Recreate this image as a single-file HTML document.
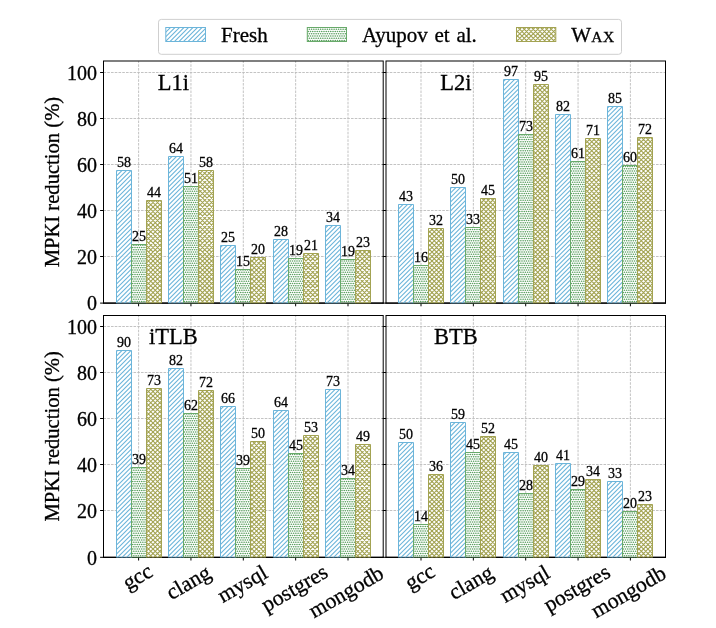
<!DOCTYPE html>
<html><head><meta charset="utf-8"><title>MPKI reduction</title>
<style>
html,body{margin:0;padding:0;background:#fff;}
body{width:716px;height:628px;overflow:hidden;font-family:"Liberation Serif", serif;}
svg{display:block;will-change:transform;}
text{font-family:"Liberation Serif", serif;fill:#000;stroke:#000;stroke-width:0.3px;}
.hb{stroke:#6cb5da;stroke-width:1.1;fill:none;}
.ho{stroke:#a3a352;stroke-width:1.14;fill:none;}
.hg{stroke:#5da162;stroke-width:1.65;fill:none;stroke-linecap:round;stroke-dasharray:0 2.25;}
.eb{fill:none;stroke:#6cb5da;stroke-width:1;}
.eg{fill:none;stroke:#68aa6a;stroke-width:1;}
.eo{fill:none;stroke:#a3a352;stroke-width:1;}
.bg{fill:#fff;fill-opacity:0.85;}
.v{font-size:14px;text-anchor:middle;stroke-width:0.28px;}
.gr{stroke:#bcbcbc;stroke-width:0.9;stroke-dasharray:2.6 1.15;fill:none;}
.sp{fill:none;stroke:#000;stroke-width:1;}
.tk{fill:none;stroke:#000;stroke-width:1;}
.yt{font-size:20px;text-anchor:end;}
.yl{font-size:20.6px;text-anchor:middle;}
.xt{font-size:21.8px;text-anchor:middle;}
.pl{font-size:22.5px;text-anchor:middle;}
.lg{font-size:21px;}
</style></head><body>
<svg width="716" height="628" viewBox="0 0 716 628">
<rect width="716" height="628" fill="#fff"/>

<defs>
<clipPath id="cL1i0">
<rect x="116.5" y="170.5" width="15" height="132.6"/>
<rect x="168.5" y="156.5" width="15" height="146.6"/>
<rect x="220.5" y="245.5" width="15" height="57.6"/>
<rect x="273.5" y="239.5" width="15" height="63.6"/>
<rect x="325.5" y="225.5" width="15" height="77.6"/>
</clipPath>
<clipPath id="cL1i1">
<rect x="131.5" y="244.5" width="15" height="58.6"/>
<rect x="183.5" y="186.5" width="15" height="116.6"/>
<rect x="235.5" y="269.5" width="15" height="33.6"/>
<rect x="288.5" y="258.5" width="15" height="44.6"/>
<rect x="340.5" y="259.5" width="15" height="43.6"/>
</clipPath>
<clipPath id="cL1i2">
<rect x="146.5" y="200.5" width="15" height="102.6"/>
<rect x="198.5" y="170.5" width="15" height="132.6"/>
<rect x="250.5" y="257.5" width="15" height="45.6"/>
<rect x="303.5" y="253.5" width="15" height="49.6"/>
<rect x="355.5" y="250.5" width="15" height="52.6"/>
</clipPath>
<clipPath id="cL2i0">
<rect x="398.5" y="204.5" width="15" height="98.6"/>
<rect x="450.5" y="187.5" width="15" height="115.6"/>
<rect x="503.5" y="79.5" width="15" height="223.6"/>
<rect x="555.5" y="114.5" width="15" height="188.6"/>
<rect x="607.5" y="106.5" width="15" height="196.6"/>
</clipPath>
<clipPath id="cL2i1">
<rect x="413.5" y="265.5" width="15" height="37.6"/>
<rect x="465.5" y="227.5" width="15" height="75.6"/>
<rect x="518.5" y="134.5" width="15" height="168.6"/>
<rect x="570.5" y="161.5" width="15" height="141.6"/>
<rect x="622.5" y="165.5" width="15" height="137.6"/>
</clipPath>
<clipPath id="cL2i2">
<rect x="428.5" y="228.5" width="15" height="74.6"/>
<rect x="480.5" y="198.5" width="15" height="104.6"/>
<rect x="533.5" y="84.5" width="15" height="218.6"/>
<rect x="585.5" y="138.5" width="15" height="164.6"/>
<rect x="637.5" y="137.5" width="15" height="165.6"/>
</clipPath>
<clipPath id="ciTLB0">
<rect x="116.5" y="350.5" width="15" height="206.8"/>
<rect x="168.5" y="368.5" width="15" height="188.8"/>
<rect x="220.5" y="406.5" width="15" height="150.8"/>
<rect x="273.5" y="410.5" width="15" height="146.8"/>
<rect x="325.5" y="389.5" width="15" height="167.8"/>
</clipPath>
<clipPath id="ciTLB1">
<rect x="131.5" y="467.5" width="15" height="89.8"/>
<rect x="183.5" y="413.5" width="15" height="143.8"/>
<rect x="235.5" y="468.5" width="15" height="88.8"/>
<rect x="288.5" y="453.5" width="15" height="103.8"/>
<rect x="340.5" y="478.5" width="15" height="78.8"/>
</clipPath>
<clipPath id="ciTLB2">
<rect x="146.5" y="388.5" width="15" height="168.8"/>
<rect x="198.5" y="390.5" width="15" height="166.8"/>
<rect x="250.5" y="441.5" width="15" height="115.8"/>
<rect x="303.5" y="435.5" width="15" height="121.8"/>
<rect x="355.5" y="444.5" width="15" height="112.8"/>
</clipPath>
<clipPath id="cBTB0">
<rect x="398.5" y="442.5" width="15" height="114.8"/>
<rect x="450.5" y="422.5" width="15" height="134.8"/>
<rect x="503.5" y="452.5" width="15" height="104.8"/>
<rect x="555.5" y="463.5" width="15" height="93.8"/>
<rect x="607.5" y="481.5" width="15" height="75.8"/>
</clipPath>
<clipPath id="cBTB1">
<rect x="413.5" y="524.5" width="15" height="32.8"/>
<rect x="465.5" y="452.5" width="15" height="104.8"/>
<rect x="518.5" y="493.5" width="15" height="63.8"/>
<rect x="570.5" y="489.5" width="15" height="67.8"/>
<rect x="622.5" y="511.5" width="15" height="45.8"/>
</clipPath>
<clipPath id="cBTB2">
<rect x="428.5" y="474.5" width="15" height="82.8"/>
<rect x="480.5" y="436.5" width="15" height="120.8"/>
<rect x="533.5" y="465.5" width="15" height="91.8"/>
<rect x="585.5" y="479.5" width="15" height="77.8"/>
<rect x="637.5" y="504.5" width="15" height="52.8"/>
</clipPath>
<clipPath id="clb"><rect x="165.8" y="27.5" width="39.7" height="14.0"/></clipPath>
<clipPath id="clg"><rect x="307.3" y="27.5" width="39.2" height="14.0"/></clipPath>
<clipPath id="clo"><rect x="516.5" y="27.5" width="39.3" height="14.0"/></clipPath>
</defs>
<g id="L1i">
<path class="gr" d="M138.6,303.1V61M190.95,303.1V61M243.3,303.1V61M295.65,303.1V61M348,303.1V61M103.5,256.5H383.2M103.5,210.5H383.2M103.5,164.5H383.2M103.5,118.5H383.2M103.5,72.5H383.2"/>
<rect class="sp" x="103.5" y="61" width="279.7" height="242.1"/>
<path class="sp" stroke-width="1.3" d="M103,303.1H383.7" style="stroke-width:1.15px"/>
<path class="tk" d="M138.6,303.1v3.2M190.95,303.1v3.2M243.3,303.1v3.2M295.65,303.1v3.2M348,303.1v3.2M103.5,303.1h-3.4M103.5,256.5h-3.4M103.5,210.5h-3.4M103.5,164.5h-3.4M103.5,118.5h-3.4M103.5,72.5h-3.4"/>
<path class="bg" d="M116.5,170.5h15v132h-15zM168.5,156.5h15v146h-15zM220.5,245.5h15v57h-15zM273.5,239.5h15v63h-15zM325.5,225.5h15v77h-15z"/>
<path class="hb" clip-path="url(#cL1i0)" d="M115.5,154.5L341.46,-71.46M115.5,159L341.46,-66.96M115.5,163.5L341.46,-62.46M115.5,168L341.46,-57.96M115.5,172.5L341.46,-53.46M115.5,177L341.46,-48.96M115.5,181.5L341.46,-44.46M115.5,186L341.46,-39.96M115.5,190.5L341.46,-35.46M115.5,195L341.46,-30.96M115.5,199.5L341.46,-26.46M115.5,204L341.46,-21.96M115.5,208.5L341.46,-17.46M115.5,213L341.46,-12.96M115.5,217.5L341.46,-8.46M115.5,222L341.46,-3.96M115.5,226.5L341.46,0.54M115.5,231L341.46,5.04M115.5,235.5L341.46,9.54M115.5,240L341.46,14.04M115.5,244.5L341.46,18.54M115.5,249L341.46,23.04M115.5,253.5L341.46,27.54M115.5,258L341.46,32.04M115.5,262.5L341.46,36.54M115.5,267L341.46,41.04M115.5,271.5L341.46,45.54M115.5,276L341.46,50.04M115.5,280.5L341.46,54.54M115.5,285L341.46,59.04M115.5,289.5L341.46,63.54M115.5,294L341.46,68.04M115.5,298.5L341.46,72.54M115.5,303L341.46,77.04M115.5,307.5L341.46,81.54M115.5,312L341.46,86.04M115.5,316.5L341.46,90.54M115.5,321L341.46,95.04M115.5,325.5L341.46,99.54M115.5,330L341.46,104.04M115.5,334.5L341.46,108.54M115.5,339L341.46,113.04M115.5,343.5L341.46,117.54M115.5,348L341.46,122.04M115.5,352.5L341.46,126.54M115.5,357L341.46,131.04M115.5,361.5L341.46,135.54M115.5,366L341.46,140.04M115.5,370.5L341.46,144.54M115.5,375L341.46,149.04M115.5,379.5L341.46,153.54M115.5,384L341.46,158.04M115.5,388.5L341.46,162.54M115.5,393L341.46,167.04M115.5,397.5L341.46,171.54M115.5,402L341.46,176.04M115.5,406.5L341.46,180.54M115.5,411L341.46,185.04M115.5,415.5L341.46,189.54M115.5,420L341.46,194.04M115.5,424.5L341.46,198.54M115.5,429L341.46,203.04M115.5,433.5L341.46,207.54M115.5,438L341.46,212.04M115.5,442.5L341.46,216.54M115.5,447L341.46,221.04M115.5,451.5L341.46,225.54M115.5,456L341.46,230.04M115.5,460.5L341.46,234.54M115.5,465L341.46,239.04M115.5,469.5L341.46,243.54M115.5,474L341.46,248.04M115.5,478.5L341.46,252.54M115.5,483L341.46,257.04M115.5,487.5L341.46,261.54M115.5,492L341.46,266.04M115.5,496.5L341.46,270.54M115.5,501L341.46,275.04M115.5,505.5L341.46,279.54M115.5,510L341.46,284.04M115.5,514.5L341.46,288.54M115.5,519L341.46,293.04M115.5,523.5L341.46,297.54M115.5,528L341.46,302.04"/>
<path class="eb" d="M116.5,303.1V170.5h15V303.1M168.5,303.1V156.5h15V303.1M220.5,303.1V245.5h15V303.1M273.5,303.1V239.5h15V303.1M325.5,303.1V225.5h15V303.1"/>
<path class="eb" opacity="0.55" d="M116.5,303.1h15M168.5,303.1h15M220.5,303.1h15M273.5,303.1h15M325.5,303.1h15"/>
<path class="bg" d="M131.5,244.5h15v58h-15zM183.5,186.5h15v116h-15zM235.5,269.5h15v33h-15zM288.5,258.5h15v44h-15zM340.5,259.5h15v43h-15z"/>
<path class="hg" clip-path="url(#cL1i1)" d="M130.5,184.5H356.46M130.5,189H356.46M130.5,193.5H356.46M130.5,198H356.46M130.5,202.5H356.46M130.5,207H356.46M130.5,211.5H356.46M130.5,216H356.46M130.5,220.5H356.46M130.5,225H356.46M130.5,229.5H356.46M130.5,234H356.46M130.5,238.5H356.46M130.5,243H356.46M130.5,247.5H356.46M130.5,252H356.46M130.5,256.5H356.46M130.5,261H356.46M130.5,265.5H356.46M130.5,270H356.46M130.5,274.5H356.46M130.5,279H356.46M130.5,283.5H356.46M130.5,288H356.46M130.5,292.5H356.46M130.5,297H356.46M130.5,301.5H356.46M131.62,186.75H356.46M131.62,191.25H356.46M131.62,195.75H356.46M131.62,200.25H356.46M131.62,204.75H356.46M131.62,209.25H356.46M131.62,213.75H356.46M131.62,218.25H356.46M131.62,222.75H356.46M131.62,227.25H356.46M131.62,231.75H356.46M131.62,236.25H356.46M131.62,240.75H356.46M131.62,245.25H356.46M131.62,249.75H356.46M131.62,254.25H356.46M131.62,258.75H356.46M131.62,263.25H356.46M131.62,267.75H356.46M131.62,272.25H356.46M131.62,276.75H356.46M131.62,281.25H356.46M131.62,285.75H356.46M131.62,290.25H356.46M131.62,294.75H356.46M131.62,299.25H356.46M131.62,303.75H356.46"/>
<path class="eg" d="M131.5,303.1V244.5h15V303.1M183.5,303.1V186.5h15V303.1M235.5,303.1V269.5h15V303.1M288.5,303.1V258.5h15V303.1M340.5,303.1V259.5h15V303.1"/>
<path class="eg" opacity="0.55" d="M131.5,303.1h15M183.5,303.1h15M235.5,303.1h15M288.5,303.1h15M340.5,303.1h15"/>
<path class="bg" d="M146.5,200.5h15v102h-15zM198.5,170.5h15v132h-15zM250.5,257.5h15v45h-15zM303.5,253.5h15v49h-15zM355.5,250.5h15v52h-15z"/>
<path class="ho" clip-path="url(#cL1i2)" d="M145.5,169.5L371.46,-56.46M145.5,174L371.46,-51.96M145.5,178.5L371.46,-47.46M145.5,183L371.46,-42.96M145.5,187.5L371.46,-38.46M145.5,192L371.46,-33.96M145.5,196.5L371.46,-29.46M145.5,201L371.46,-24.96M145.5,205.5L371.46,-20.46M145.5,210L371.46,-15.96M145.5,214.5L371.46,-11.46M145.5,219L371.46,-6.96M145.5,223.5L371.46,-2.46M145.5,228L371.46,2.04M145.5,232.5L371.46,6.54M145.5,237L371.46,11.04M145.5,241.5L371.46,15.54M145.5,246L371.46,20.04M145.5,250.5L371.46,24.54M145.5,255L371.46,29.04M145.5,259.5L371.46,33.54M145.5,264L371.46,38.04M145.5,268.5L371.46,42.54M145.5,273L371.46,47.04M145.5,277.5L371.46,51.54M145.5,282L371.46,56.04M145.5,286.5L371.46,60.54M145.5,291L371.46,65.04M145.5,295.5L371.46,69.54M145.5,300L371.46,74.04M145.5,304.5L371.46,78.54M145.5,309L371.46,83.04M145.5,313.5L371.46,87.54M145.5,318L371.46,92.04M145.5,322.5L371.46,96.54M145.5,327L371.46,101.04M145.5,331.5L371.46,105.54M145.5,336L371.46,110.04M145.5,340.5L371.46,114.54M145.5,345L371.46,119.04M145.5,349.5L371.46,123.54M145.5,354L371.46,128.04M145.5,358.5L371.46,132.54M145.5,363L371.46,137.04M145.5,367.5L371.46,141.54M145.5,372L371.46,146.04M145.5,376.5L371.46,150.54M145.5,381L371.46,155.04M145.5,385.5L371.46,159.54M145.5,390L371.46,164.04M145.5,394.5L371.46,168.54M145.5,399L371.46,173.04M145.5,403.5L371.46,177.54M145.5,408L371.46,182.04M145.5,412.5L371.46,186.54M145.5,417L371.46,191.04M145.5,421.5L371.46,195.54M145.5,426L371.46,200.04M145.5,430.5L371.46,204.54M145.5,435L371.46,209.04M145.5,439.5L371.46,213.54M145.5,444L371.46,218.04M145.5,448.5L371.46,222.54M145.5,453L371.46,227.04M145.5,457.5L371.46,231.54M145.5,462L371.46,236.04M145.5,466.5L371.46,240.54M145.5,471L371.46,245.04M145.5,475.5L371.46,249.54M145.5,480L371.46,254.04M145.5,484.5L371.46,258.54M145.5,489L371.46,263.04M145.5,493.5L371.46,267.54M145.5,498L371.46,272.04M145.5,502.5L371.46,276.54M145.5,507L371.46,281.04M145.5,511.5L371.46,285.54M145.5,516L371.46,290.04M145.5,520.5L371.46,294.54M145.5,525L371.46,299.04M145.5,529.5L371.46,303.54M145.5,307.5L371.46,533.46M145.5,303L371.46,528.96M145.5,298.5L371.46,524.46M145.5,294L371.46,519.96M145.5,289.5L371.46,515.46M145.5,285L371.46,510.96M145.5,280.5L371.46,506.46M145.5,276L371.46,501.96M145.5,271.5L371.46,497.46M145.5,267L371.46,492.96M145.5,262.5L371.46,488.46M145.5,258L371.46,483.96M145.5,253.5L371.46,479.46M145.5,249L371.46,474.96M145.5,244.5L371.46,470.46M145.5,240L371.46,465.96M145.5,235.5L371.46,461.46M145.5,231L371.46,456.96M145.5,226.5L371.46,452.46M145.5,222L371.46,447.96M145.5,217.5L371.46,443.46M145.5,213L371.46,438.96M145.5,208.5L371.46,434.46M145.5,204L371.46,429.96M145.5,199.5L371.46,425.46M145.5,195L371.46,420.96M145.5,190.5L371.46,416.46M145.5,186L371.46,411.96M145.5,181.5L371.46,407.46M145.5,177L371.46,402.96M145.5,172.5L371.46,398.46M145.5,168L371.46,393.96M145.5,163.5L371.46,389.46M145.5,159L371.46,384.96M145.5,154.5L371.46,380.46M145.5,150L371.46,375.96M145.5,145.5L371.46,371.46M145.5,141L371.46,366.96M145.5,136.5L371.46,362.46M145.5,132L371.46,357.96M145.5,127.5L371.46,353.46M145.5,123L371.46,348.96M145.5,118.5L371.46,344.46M145.5,114L371.46,339.96M145.5,109.5L371.46,335.46M145.5,105L371.46,330.96M145.5,100.5L371.46,326.46M145.5,96L371.46,321.96M145.5,91.5L371.46,317.46M145.5,87L371.46,312.96M145.5,82.5L371.46,308.46M145.5,78L371.46,303.96M145.5,73.5L371.46,299.46M145.5,69L371.46,294.96M145.5,64.5L371.46,290.46M145.5,60L371.46,285.96M145.5,55.5L371.46,281.46M145.5,51L371.46,276.96M145.5,46.5L371.46,272.46M145.5,42L371.46,267.96M145.5,37.5L371.46,263.46M145.5,33L371.46,258.96M145.5,28.5L371.46,254.46M145.5,24L371.46,249.96M145.5,19.5L371.46,245.46M145.5,15L371.46,240.96M145.5,10.5L371.46,236.46M145.5,6L371.46,231.96M145.5,1.5L371.46,227.46M145.5,-3L371.46,222.96M145.5,-7.5L371.46,218.46M145.5,-12L371.46,213.96M145.5,-16.5L371.46,209.46M145.5,-21L371.46,204.96M145.5,-25.5L371.46,200.46M145.5,-30L371.46,195.96M145.5,-34.5L371.46,191.46M145.5,-39L371.46,186.96M145.5,-43.5L371.46,182.46M145.5,-48L371.46,177.96M145.5,-52.5L371.46,173.46"/>
<path class="eo" d="M146.5,303.1V200.5h15V303.1M198.5,303.1V170.5h15V303.1M250.5,303.1V257.5h15V303.1M303.5,303.1V253.5h15V303.1M355.5,303.1V250.5h15V303.1"/>
<path class="eo" opacity="0.55" d="M146.5,303.1h15M198.5,303.1h15M250.5,303.1h15M303.5,303.1h15M355.5,303.1h15"/>
<text class="v" x="124" y="166.6">58</text>
<text class="v" x="176" y="152.6">64</text>
<text class="v" x="228" y="241.6">25</text>
<text class="v" x="281" y="235.6">28</text>
<text class="v" x="333" y="221.6">34</text>
<text class="v" x="139" y="240.6">25</text>
<text class="v" x="191" y="182.6">51</text>
<text class="v" x="243" y="265.6">15</text>
<text class="v" x="296" y="254.6">19</text>
<text class="v" x="348" y="255.6">19</text>
<text class="v" x="154" y="196.6">44</text>
<text class="v" x="206" y="166.6">58</text>
<text class="v" x="258" y="253.6">20</text>
<text class="v" x="311" y="249.6">21</text>
<text class="v" x="363" y="246.6">23</text>
<text class="pl" x="173.43" y="89.5">L1i</text>
</g>
<g id="L2i">
<path class="gr" d="M421,303.1V61M473.35,303.1V61M525.7,303.1V61M578.05,303.1V61M630.4,303.1V61M386,256.5H665.5M386,210.5H665.5M386,164.5H665.5M386,118.5H665.5M386,72.5H665.5"/>
<rect class="sp" x="386" y="61" width="279.5" height="242.1"/>
<path class="sp" stroke-width="1.3" d="M385.5,303.1H666" style="stroke-width:1.15px"/>
<path class="tk" d="M421,303.1v3.2M473.35,303.1v3.2M525.7,303.1v3.2M578.05,303.1v3.2M630.4,303.1v3.2M386,303.1h-3.4M386,256.5h-3.4M386,210.5h-3.4M386,164.5h-3.4M386,118.5h-3.4M386,72.5h-3.4"/>
<path class="bg" d="M398.5,204.5h15v98h-15zM450.5,187.5h15v115h-15zM503.5,79.5h15v223h-15zM555.5,114.5h15v188h-15zM607.5,106.5h15v196h-15z"/>
<path class="hb" clip-path="url(#cL2i0)" d="M397.5,75L623.46,-150.96M397.5,79.5L623.46,-146.46M397.5,84L623.46,-141.96M397.5,88.5L623.46,-137.46M397.5,93L623.46,-132.96M397.5,97.5L623.46,-128.46M397.5,102L623.46,-123.96M397.5,106.5L623.46,-119.46M397.5,111L623.46,-114.96M397.5,115.5L623.46,-110.46M397.5,120L623.46,-105.96M397.5,124.5L623.46,-101.46M397.5,129L623.46,-96.96M397.5,133.5L623.46,-92.46M397.5,138L623.46,-87.96M397.5,142.5L623.46,-83.46M397.5,147L623.46,-78.96M397.5,151.5L623.46,-74.46M397.5,156L623.46,-69.96M397.5,160.5L623.46,-65.46M397.5,165L623.46,-60.96M397.5,169.5L623.46,-56.46M397.5,174L623.46,-51.96M397.5,178.5L623.46,-47.46M397.5,183L623.46,-42.96M397.5,187.5L623.46,-38.46M397.5,192L623.46,-33.96M397.5,196.5L623.46,-29.46M397.5,201L623.46,-24.96M397.5,205.5L623.46,-20.46M397.5,210L623.46,-15.96M397.5,214.5L623.46,-11.46M397.5,219L623.46,-6.96M397.5,223.5L623.46,-2.46M397.5,228L623.46,2.04M397.5,232.5L623.46,6.54M397.5,237L623.46,11.04M397.5,241.5L623.46,15.54M397.5,246L623.46,20.04M397.5,250.5L623.46,24.54M397.5,255L623.46,29.04M397.5,259.5L623.46,33.54M397.5,264L623.46,38.04M397.5,268.5L623.46,42.54M397.5,273L623.46,47.04M397.5,277.5L623.46,51.54M397.5,282L623.46,56.04M397.5,286.5L623.46,60.54M397.5,291L623.46,65.04M397.5,295.5L623.46,69.54M397.5,300L623.46,74.04M397.5,304.5L623.46,78.54M397.5,309L623.46,83.04M397.5,313.5L623.46,87.54M397.5,318L623.46,92.04M397.5,322.5L623.46,96.54M397.5,327L623.46,101.04M397.5,331.5L623.46,105.54M397.5,336L623.46,110.04M397.5,340.5L623.46,114.54M397.5,345L623.46,119.04M397.5,349.5L623.46,123.54M397.5,354L623.46,128.04M397.5,358.5L623.46,132.54M397.5,363L623.46,137.04M397.5,367.5L623.46,141.54M397.5,372L623.46,146.04M397.5,376.5L623.46,150.54M397.5,381L623.46,155.04M397.5,385.5L623.46,159.54M397.5,390L623.46,164.04M397.5,394.5L623.46,168.54M397.5,399L623.46,173.04M397.5,403.5L623.46,177.54M397.5,408L623.46,182.04M397.5,412.5L623.46,186.54M397.5,417L623.46,191.04M397.5,421.5L623.46,195.54M397.5,426L623.46,200.04M397.5,430.5L623.46,204.54M397.5,435L623.46,209.04M397.5,439.5L623.46,213.54M397.5,444L623.46,218.04M397.5,448.5L623.46,222.54M397.5,453L623.46,227.04M397.5,457.5L623.46,231.54M397.5,462L623.46,236.04M397.5,466.5L623.46,240.54M397.5,471L623.46,245.04M397.5,475.5L623.46,249.54M397.5,480L623.46,254.04M397.5,484.5L623.46,258.54M397.5,489L623.46,263.04M397.5,493.5L623.46,267.54M397.5,498L623.46,272.04M397.5,502.5L623.46,276.54M397.5,507L623.46,281.04M397.5,511.5L623.46,285.54M397.5,516L623.46,290.04M397.5,520.5L623.46,294.54M397.5,525L623.46,299.04M397.5,529.5L623.46,303.54"/>
<path class="eb" d="M398.5,303.1V204.5h15V303.1M450.5,303.1V187.5h15V303.1M503.5,303.1V79.5h15V303.1M555.5,303.1V114.5h15V303.1M607.5,303.1V106.5h15V303.1"/>
<path class="eb" opacity="0.55" d="M398.5,303.1h15M450.5,303.1h15M503.5,303.1h15M555.5,303.1h15M607.5,303.1h15"/>
<path class="bg" d="M413.5,265.5h15v37h-15zM465.5,227.5h15v75h-15zM518.5,134.5h15v168h-15zM570.5,161.5h15v141h-15zM622.5,165.5h15v137h-15z"/>
<path class="hg" clip-path="url(#cL2i1)" d="M411.75,135H638.46M411.75,139.5H638.46M411.75,144H638.46M411.75,148.5H638.46M411.75,153H638.46M411.75,157.5H638.46M411.75,162H638.46M411.75,166.5H638.46M411.75,171H638.46M411.75,175.5H638.46M411.75,180H638.46M411.75,184.5H638.46M411.75,189H638.46M411.75,193.5H638.46M411.75,198H638.46M411.75,202.5H638.46M411.75,207H638.46M411.75,211.5H638.46M411.75,216H638.46M411.75,220.5H638.46M411.75,225H638.46M411.75,229.5H638.46M411.75,234H638.46M411.75,238.5H638.46M411.75,243H638.46M411.75,247.5H638.46M411.75,252H638.46M411.75,256.5H638.46M411.75,261H638.46M411.75,265.5H638.46M411.75,270H638.46M411.75,274.5H638.46M411.75,279H638.46M411.75,283.5H638.46M411.75,288H638.46M411.75,292.5H638.46M411.75,297H638.46M411.75,301.5H638.46M412.88,132.75H638.46M412.88,137.25H638.46M412.88,141.75H638.46M412.88,146.25H638.46M412.88,150.75H638.46M412.88,155.25H638.46M412.88,159.75H638.46M412.88,164.25H638.46M412.88,168.75H638.46M412.88,173.25H638.46M412.88,177.75H638.46M412.88,182.25H638.46M412.88,186.75H638.46M412.88,191.25H638.46M412.88,195.75H638.46M412.88,200.25H638.46M412.88,204.75H638.46M412.88,209.25H638.46M412.88,213.75H638.46M412.88,218.25H638.46M412.88,222.75H638.46M412.88,227.25H638.46M412.88,231.75H638.46M412.88,236.25H638.46M412.88,240.75H638.46M412.88,245.25H638.46M412.88,249.75H638.46M412.88,254.25H638.46M412.88,258.75H638.46M412.88,263.25H638.46M412.88,267.75H638.46M412.88,272.25H638.46M412.88,276.75H638.46M412.88,281.25H638.46M412.88,285.75H638.46M412.88,290.25H638.46M412.88,294.75H638.46M412.88,299.25H638.46M412.88,303.75H638.46"/>
<path class="eg" d="M413.5,303.1V265.5h15V303.1M465.5,303.1V227.5h15V303.1M518.5,303.1V134.5h15V303.1M570.5,303.1V161.5h15V303.1M622.5,303.1V165.5h15V303.1"/>
<path class="eg" opacity="0.55" d="M413.5,303.1h15M465.5,303.1h15M518.5,303.1h15M570.5,303.1h15M622.5,303.1h15"/>
<path class="bg" d="M428.5,228.5h15v74h-15zM480.5,198.5h15v104h-15zM533.5,84.5h15v218h-15zM585.5,138.5h15v164h-15zM637.5,137.5h15v165h-15z"/>
<path class="ho" clip-path="url(#cL2i2)" d="M427.5,81L653.46,-144.96M427.5,85.5L653.46,-140.46M427.5,90L653.46,-135.96M427.5,94.5L653.46,-131.46M427.5,99L653.46,-126.96M427.5,103.5L653.46,-122.46M427.5,108L653.46,-117.96M427.5,112.5L653.46,-113.46M427.5,117L653.46,-108.96M427.5,121.5L653.46,-104.46M427.5,126L653.46,-99.96M427.5,130.5L653.46,-95.46M427.5,135L653.46,-90.96M427.5,139.5L653.46,-86.46M427.5,144L653.46,-81.96M427.5,148.5L653.46,-77.46M427.5,153L653.46,-72.96M427.5,157.5L653.46,-68.46M427.5,162L653.46,-63.96M427.5,166.5L653.46,-59.46M427.5,171L653.46,-54.96M427.5,175.5L653.46,-50.46M427.5,180L653.46,-45.96M427.5,184.5L653.46,-41.46M427.5,189L653.46,-36.96M427.5,193.5L653.46,-32.46M427.5,198L653.46,-27.96M427.5,202.5L653.46,-23.46M427.5,207L653.46,-18.96M427.5,211.5L653.46,-14.46M427.5,216L653.46,-9.96M427.5,220.5L653.46,-5.46M427.5,225L653.46,-0.96M427.5,229.5L653.46,3.54M427.5,234L653.46,8.04M427.5,238.5L653.46,12.54M427.5,243L653.46,17.04M427.5,247.5L653.46,21.54M427.5,252L653.46,26.04M427.5,256.5L653.46,30.54M427.5,261L653.46,35.04M427.5,265.5L653.46,39.54M427.5,270L653.46,44.04M427.5,274.5L653.46,48.54M427.5,279L653.46,53.04M427.5,283.5L653.46,57.54M427.5,288L653.46,62.04M427.5,292.5L653.46,66.54M427.5,297L653.46,71.04M427.5,301.5L653.46,75.54M427.5,306L653.46,80.04M427.5,310.5L653.46,84.54M427.5,315L653.46,89.04M427.5,319.5L653.46,93.54M427.5,324L653.46,98.04M427.5,328.5L653.46,102.54M427.5,333L653.46,107.04M427.5,337.5L653.46,111.54M427.5,342L653.46,116.04M427.5,346.5L653.46,120.54M427.5,351L653.46,125.04M427.5,355.5L653.46,129.54M427.5,360L653.46,134.04M427.5,364.5L653.46,138.54M427.5,369L653.46,143.04M427.5,373.5L653.46,147.54M427.5,378L653.46,152.04M427.5,382.5L653.46,156.54M427.5,387L653.46,161.04M427.5,391.5L653.46,165.54M427.5,396L653.46,170.04M427.5,400.5L653.46,174.54M427.5,405L653.46,179.04M427.5,409.5L653.46,183.54M427.5,414L653.46,188.04M427.5,418.5L653.46,192.54M427.5,423L653.46,197.04M427.5,427.5L653.46,201.54M427.5,432L653.46,206.04M427.5,436.5L653.46,210.54M427.5,441L653.46,215.04M427.5,445.5L653.46,219.54M427.5,450L653.46,224.04M427.5,454.5L653.46,228.54M427.5,459L653.46,233.04M427.5,463.5L653.46,237.54M427.5,468L653.46,242.04M427.5,472.5L653.46,246.54M427.5,477L653.46,251.04M427.5,481.5L653.46,255.54M427.5,486L653.46,260.04M427.5,490.5L653.46,264.54M427.5,495L653.46,269.04M427.5,499.5L653.46,273.54M427.5,504L653.46,278.04M427.5,508.5L653.46,282.54M427.5,513L653.46,287.04M427.5,517.5L653.46,291.54M427.5,522L653.46,296.04M427.5,526.5L653.46,300.54M427.5,306L653.46,531.96M427.5,301.5L653.46,527.46M427.5,297L653.46,522.96M427.5,292.5L653.46,518.46M427.5,288L653.46,513.96M427.5,283.5L653.46,509.46M427.5,279L653.46,504.96M427.5,274.5L653.46,500.46M427.5,270L653.46,495.96M427.5,265.5L653.46,491.46M427.5,261L653.46,486.96M427.5,256.5L653.46,482.46M427.5,252L653.46,477.96M427.5,247.5L653.46,473.46M427.5,243L653.46,468.96M427.5,238.5L653.46,464.46M427.5,234L653.46,459.96M427.5,229.5L653.46,455.46M427.5,225L653.46,450.96M427.5,220.5L653.46,446.46M427.5,216L653.46,441.96M427.5,211.5L653.46,437.46M427.5,207L653.46,432.96M427.5,202.5L653.46,428.46M427.5,198L653.46,423.96M427.5,193.5L653.46,419.46M427.5,189L653.46,414.96M427.5,184.5L653.46,410.46M427.5,180L653.46,405.96M427.5,175.5L653.46,401.46M427.5,171L653.46,396.96M427.5,166.5L653.46,392.46M427.5,162L653.46,387.96M427.5,157.5L653.46,383.46M427.5,153L653.46,378.96M427.5,148.5L653.46,374.46M427.5,144L653.46,369.96M427.5,139.5L653.46,365.46M427.5,135L653.46,360.96M427.5,130.5L653.46,356.46M427.5,126L653.46,351.96M427.5,121.5L653.46,347.46M427.5,117L653.46,342.96M427.5,112.5L653.46,338.46M427.5,108L653.46,333.96M427.5,103.5L653.46,329.46M427.5,99L653.46,324.96M427.5,94.5L653.46,320.46M427.5,90L653.46,315.96M427.5,85.5L653.46,311.46M427.5,81L653.46,306.96M427.5,76.5L653.46,302.46M427.5,72L653.46,297.96M427.5,67.5L653.46,293.46M427.5,63L653.46,288.96M427.5,58.5L653.46,284.46M427.5,54L653.46,279.96M427.5,49.5L653.46,275.46M427.5,45L653.46,270.96M427.5,40.5L653.46,266.46M427.5,36L653.46,261.96M427.5,31.5L653.46,257.46M427.5,27L653.46,252.96M427.5,22.5L653.46,248.46M427.5,18L653.46,243.96M427.5,13.5L653.46,239.46M427.5,9L653.46,234.96M427.5,4.5L653.46,230.46M427.5,0L653.46,225.96M427.5,-4.5L653.46,221.46M427.5,-9L653.46,216.96M427.5,-13.5L653.46,212.46M427.5,-18L653.46,207.96M427.5,-22.5L653.46,203.46M427.5,-27L653.46,198.96M427.5,-31.5L653.46,194.46M427.5,-36L653.46,189.96M427.5,-40.5L653.46,185.46M427.5,-45L653.46,180.96M427.5,-49.5L653.46,176.46M427.5,-54L653.46,171.96M427.5,-58.5L653.46,167.46M427.5,-63L653.46,162.96M427.5,-67.5L653.46,158.46M427.5,-72L653.46,153.96M427.5,-76.5L653.46,149.46M427.5,-81L653.46,144.96M427.5,-85.5L653.46,140.46M427.5,-90L653.46,135.96M427.5,-94.5L653.46,131.46M427.5,-99L653.46,126.96M427.5,-103.5L653.46,122.46M427.5,-108L653.46,117.96M427.5,-112.5L653.46,113.46M427.5,-117L653.46,108.96M427.5,-121.5L653.46,104.46M427.5,-126L653.46,99.96M427.5,-130.5L653.46,95.46M427.5,-135L653.46,90.96M427.5,-139.5L653.46,86.46"/>
<path class="eo" d="M428.5,303.1V228.5h15V303.1M480.5,303.1V198.5h15V303.1M533.5,303.1V84.5h15V303.1M585.5,303.1V138.5h15V303.1M637.5,303.1V137.5h15V303.1"/>
<path class="eo" opacity="0.55" d="M428.5,303.1h15M480.5,303.1h15M533.5,303.1h15M585.5,303.1h15M637.5,303.1h15"/>
<text class="v" x="406" y="200.6">43</text>
<text class="v" x="458" y="183.6">50</text>
<text class="v" x="511" y="75.6">97</text>
<text class="v" x="563" y="110.6">82</text>
<text class="v" x="615" y="102.6">85</text>
<text class="v" x="421" y="261.6">16</text>
<text class="v" x="473" y="223.6">33</text>
<text class="v" x="526" y="130.6">73</text>
<text class="v" x="578" y="157.6">61</text>
<text class="v" x="630" y="161.6">60</text>
<text class="v" x="436" y="224.6">32</text>
<text class="v" x="488" y="194.6">45</text>
<text class="v" x="541" y="80.6">95</text>
<text class="v" x="593" y="134.6">71</text>
<text class="v" x="645" y="133.6">72</text>
<text class="pl" x="455.88" y="89.5">L2i</text>
</g>
<g id="iTLB">
<path class="gr" d="M138.6,557.3V315.5M190.95,557.3V315.5M243.3,557.3V315.5M295.65,557.3V315.5M348,557.3V315.5M103.5,510.5H383.2M103.5,464.5H383.2M103.5,418.5H383.2M103.5,372.5H383.2M103.5,326.5H383.2"/>
<rect class="sp" x="103.5" y="315.5" width="279.7" height="241.8"/>
<path class="sp" stroke-width="1.3" d="M103,557.3H383.7" style="stroke-width:1.15px"/>
<path class="tk" d="M138.6,557.3v3.2M190.95,557.3v3.2M243.3,557.3v3.2M295.65,557.3v3.2M348,557.3v3.2M103.5,557.3h-3.4M103.5,510.5h-3.4M103.5,464.5h-3.4M103.5,418.5h-3.4M103.5,372.5h-3.4M103.5,326.5h-3.4"/>
<path class="bg" d="M116.5,350.5h15v206.2h-15zM168.5,368.5h15v188.2h-15zM220.5,406.5h15v150.2h-15zM273.5,410.5h15v146.2h-15zM325.5,389.5h15v167.2h-15z"/>
<path class="hb" clip-path="url(#ciTLB0)" d="M115.5,348L341.46,122.04M115.5,352.5L341.46,126.54M115.5,357L341.46,131.04M115.5,361.5L341.46,135.54M115.5,366L341.46,140.04M115.5,370.5L341.46,144.54M115.5,375L341.46,149.04M115.5,379.5L341.46,153.54M115.5,384L341.46,158.04M115.5,388.5L341.46,162.54M115.5,393L341.46,167.04M115.5,397.5L341.46,171.54M115.5,402L341.46,176.04M115.5,406.5L341.46,180.54M115.5,411L341.46,185.04M115.5,415.5L341.46,189.54M115.5,420L341.46,194.04M115.5,424.5L341.46,198.54M115.5,429L341.46,203.04M115.5,433.5L341.46,207.54M115.5,438L341.46,212.04M115.5,442.5L341.46,216.54M115.5,447L341.46,221.04M115.5,451.5L341.46,225.54M115.5,456L341.46,230.04M115.5,460.5L341.46,234.54M115.5,465L341.46,239.04M115.5,469.5L341.46,243.54M115.5,474L341.46,248.04M115.5,478.5L341.46,252.54M115.5,483L341.46,257.04M115.5,487.5L341.46,261.54M115.5,492L341.46,266.04M115.5,496.5L341.46,270.54M115.5,501L341.46,275.04M115.5,505.5L341.46,279.54M115.5,510L341.46,284.04M115.5,514.5L341.46,288.54M115.5,519L341.46,293.04M115.5,523.5L341.46,297.54M115.5,528L341.46,302.04M115.5,532.5L341.46,306.54M115.5,537L341.46,311.04M115.5,541.5L341.46,315.54M115.5,546L341.46,320.04M115.5,550.5L341.46,324.54M115.5,555L341.46,329.04M115.5,559.5L341.46,333.54M115.5,564L341.46,338.04M115.5,568.5L341.46,342.54M115.5,573L341.46,347.04M115.5,577.5L341.46,351.54M115.5,582L341.46,356.04M115.5,586.5L341.46,360.54M115.5,591L341.46,365.04M115.5,595.5L341.46,369.54M115.5,600L341.46,374.04M115.5,604.5L341.46,378.54M115.5,609L341.46,383.04M115.5,613.5L341.46,387.54M115.5,618L341.46,392.04M115.5,622.5L341.46,396.54M115.5,627L341.46,401.04M115.5,631.5L341.46,405.54M115.5,636L341.46,410.04M115.5,640.5L341.46,414.54M115.5,645L341.46,419.04M115.5,649.5L341.46,423.54M115.5,654L341.46,428.04M115.5,658.5L341.46,432.54M115.5,663L341.46,437.04M115.5,667.5L341.46,441.54M115.5,672L341.46,446.04M115.5,676.5L341.46,450.54M115.5,681L341.46,455.04M115.5,685.5L341.46,459.54M115.5,690L341.46,464.04M115.5,694.5L341.46,468.54M115.5,699L341.46,473.04M115.5,703.5L341.46,477.54M115.5,708L341.46,482.04M115.5,712.5L341.46,486.54M115.5,717L341.46,491.04M115.5,721.5L341.46,495.54M115.5,726L341.46,500.04M115.5,730.5L341.46,504.54M115.5,735L341.46,509.04M115.5,739.5L341.46,513.54M115.5,744L341.46,518.04M115.5,748.5L341.46,522.54M115.5,753L341.46,527.04M115.5,757.5L341.46,531.54M115.5,762L341.46,536.04M115.5,766.5L341.46,540.54M115.5,771L341.46,545.04M115.5,775.5L341.46,549.54M115.5,780L341.46,554.04"/>
<path class="eb" d="M116.5,557.3V350.5h15V557.3M168.5,557.3V368.5h15V557.3M220.5,557.3V406.5h15V557.3M273.5,557.3V410.5h15V557.3M325.5,557.3V389.5h15V557.3"/>
<path class="eb" opacity="0.55" d="M116.5,557.3h15M168.5,557.3h15M220.5,557.3h15M273.5,557.3h15M325.5,557.3h15"/>
<path class="bg" d="M131.5,467.5h15v89.2h-15zM183.5,413.5h15v143.2h-15zM235.5,468.5h15v88.2h-15zM288.5,453.5h15v103.2h-15zM340.5,478.5h15v78.2h-15z"/>
<path class="hg" clip-path="url(#ciTLB1)" d="M130.5,414H356.46M130.5,418.5H356.46M130.5,423H356.46M130.5,427.5H356.46M130.5,432H356.46M130.5,436.5H356.46M130.5,441H356.46M130.5,445.5H356.46M130.5,450H356.46M130.5,454.5H356.46M130.5,459H356.46M130.5,463.5H356.46M130.5,468H356.46M130.5,472.5H356.46M130.5,477H356.46M130.5,481.5H356.46M130.5,486H356.46M130.5,490.5H356.46M130.5,495H356.46M130.5,499.5H356.46M130.5,504H356.46M130.5,508.5H356.46M130.5,513H356.46M130.5,517.5H356.46M130.5,522H356.46M130.5,526.5H356.46M130.5,531H356.46M130.5,535.5H356.46M130.5,540H356.46M130.5,544.5H356.46M130.5,549H356.46M130.5,553.5H356.46M130.5,558H356.46M131.62,411.75H356.46M131.62,416.25H356.46M131.62,420.75H356.46M131.62,425.25H356.46M131.62,429.75H356.46M131.62,434.25H356.46M131.62,438.75H356.46M131.62,443.25H356.46M131.62,447.75H356.46M131.62,452.25H356.46M131.62,456.75H356.46M131.62,461.25H356.46M131.62,465.75H356.46M131.62,470.25H356.46M131.62,474.75H356.46M131.62,479.25H356.46M131.62,483.75H356.46M131.62,488.25H356.46M131.62,492.75H356.46M131.62,497.25H356.46M131.62,501.75H356.46M131.62,506.25H356.46M131.62,510.75H356.46M131.62,515.25H356.46M131.62,519.75H356.46M131.62,524.25H356.46M131.62,528.75H356.46M131.62,533.25H356.46M131.62,537.75H356.46M131.62,542.25H356.46M131.62,546.75H356.46M131.62,551.25H356.46M131.62,555.75H356.46"/>
<path class="eg" d="M131.5,557.3V467.5h15V557.3M183.5,557.3V413.5h15V557.3M235.5,557.3V468.5h15V557.3M288.5,557.3V453.5h15V557.3M340.5,557.3V478.5h15V557.3"/>
<path class="eg" opacity="0.55" d="M131.5,557.3h15M183.5,557.3h15M235.5,557.3h15M288.5,557.3h15M340.5,557.3h15"/>
<path class="bg" d="M146.5,388.5h15v168.2h-15zM198.5,390.5h15v166.2h-15zM250.5,441.5h15v115.2h-15zM303.5,435.5h15v121.2h-15zM355.5,444.5h15v112.2h-15z"/>
<path class="ho" clip-path="url(#ciTLB2)" d="M145.5,385.5L371.46,159.54M145.5,390L371.46,164.04M145.5,394.5L371.46,168.54M145.5,399L371.46,173.04M145.5,403.5L371.46,177.54M145.5,408L371.46,182.04M145.5,412.5L371.46,186.54M145.5,417L371.46,191.04M145.5,421.5L371.46,195.54M145.5,426L371.46,200.04M145.5,430.5L371.46,204.54M145.5,435L371.46,209.04M145.5,439.5L371.46,213.54M145.5,444L371.46,218.04M145.5,448.5L371.46,222.54M145.5,453L371.46,227.04M145.5,457.5L371.46,231.54M145.5,462L371.46,236.04M145.5,466.5L371.46,240.54M145.5,471L371.46,245.04M145.5,475.5L371.46,249.54M145.5,480L371.46,254.04M145.5,484.5L371.46,258.54M145.5,489L371.46,263.04M145.5,493.5L371.46,267.54M145.5,498L371.46,272.04M145.5,502.5L371.46,276.54M145.5,507L371.46,281.04M145.5,511.5L371.46,285.54M145.5,516L371.46,290.04M145.5,520.5L371.46,294.54M145.5,525L371.46,299.04M145.5,529.5L371.46,303.54M145.5,534L371.46,308.04M145.5,538.5L371.46,312.54M145.5,543L371.46,317.04M145.5,547.5L371.46,321.54M145.5,552L371.46,326.04M145.5,556.5L371.46,330.54M145.5,561L371.46,335.04M145.5,565.5L371.46,339.54M145.5,570L371.46,344.04M145.5,574.5L371.46,348.54M145.5,579L371.46,353.04M145.5,583.5L371.46,357.54M145.5,588L371.46,362.04M145.5,592.5L371.46,366.54M145.5,597L371.46,371.04M145.5,601.5L371.46,375.54M145.5,606L371.46,380.04M145.5,610.5L371.46,384.54M145.5,615L371.46,389.04M145.5,619.5L371.46,393.54M145.5,624L371.46,398.04M145.5,628.5L371.46,402.54M145.5,633L371.46,407.04M145.5,637.5L371.46,411.54M145.5,642L371.46,416.04M145.5,646.5L371.46,420.54M145.5,651L371.46,425.04M145.5,655.5L371.46,429.54M145.5,660L371.46,434.04M145.5,664.5L371.46,438.54M145.5,669L371.46,443.04M145.5,673.5L371.46,447.54M145.5,678L371.46,452.04M145.5,682.5L371.46,456.54M145.5,687L371.46,461.04M145.5,691.5L371.46,465.54M145.5,696L371.46,470.04M145.5,700.5L371.46,474.54M145.5,705L371.46,479.04M145.5,709.5L371.46,483.54M145.5,714L371.46,488.04M145.5,718.5L371.46,492.54M145.5,723L371.46,497.04M145.5,727.5L371.46,501.54M145.5,732L371.46,506.04M145.5,736.5L371.46,510.54M145.5,741L371.46,515.04M145.5,745.5L371.46,519.54M145.5,750L371.46,524.04M145.5,754.5L371.46,528.54M145.5,759L371.46,533.04M145.5,763.5L371.46,537.54M145.5,768L371.46,542.04M145.5,772.5L371.46,546.54M145.5,777L371.46,551.04M145.5,781.5L371.46,555.54M145.5,559.5L371.46,785.46M145.5,555L371.46,780.96M145.5,550.5L371.46,776.46M145.5,546L371.46,771.96M145.5,541.5L371.46,767.46M145.5,537L371.46,762.96M145.5,532.5L371.46,758.46M145.5,528L371.46,753.96M145.5,523.5L371.46,749.46M145.5,519L371.46,744.96M145.5,514.5L371.46,740.46M145.5,510L371.46,735.96M145.5,505.5L371.46,731.46M145.5,501L371.46,726.96M145.5,496.5L371.46,722.46M145.5,492L371.46,717.96M145.5,487.5L371.46,713.46M145.5,483L371.46,708.96M145.5,478.5L371.46,704.46M145.5,474L371.46,699.96M145.5,469.5L371.46,695.46M145.5,465L371.46,690.96M145.5,460.5L371.46,686.46M145.5,456L371.46,681.96M145.5,451.5L371.46,677.46M145.5,447L371.46,672.96M145.5,442.5L371.46,668.46M145.5,438L371.46,663.96M145.5,433.5L371.46,659.46M145.5,429L371.46,654.96M145.5,424.5L371.46,650.46M145.5,420L371.46,645.96M145.5,415.5L371.46,641.46M145.5,411L371.46,636.96M145.5,406.5L371.46,632.46M145.5,402L371.46,627.96M145.5,397.5L371.46,623.46M145.5,393L371.46,618.96M145.5,388.5L371.46,614.46M145.5,384L371.46,609.96M145.5,379.5L371.46,605.46M145.5,375L371.46,600.96M145.5,370.5L371.46,596.46M145.5,366L371.46,591.96M145.5,361.5L371.46,587.46M145.5,357L371.46,582.96M145.5,352.5L371.46,578.46M145.5,348L371.46,573.96M145.5,343.5L371.46,569.46M145.5,339L371.46,564.96M145.5,334.5L371.46,560.46M145.5,330L371.46,555.96M145.5,325.5L371.46,551.46M145.5,321L371.46,546.96M145.5,316.5L371.46,542.46M145.5,312L371.46,537.96M145.5,307.5L371.46,533.46M145.5,303L371.46,528.96M145.5,298.5L371.46,524.46M145.5,294L371.46,519.96M145.5,289.5L371.46,515.46M145.5,285L371.46,510.96M145.5,280.5L371.46,506.46M145.5,276L371.46,501.96M145.5,271.5L371.46,497.46M145.5,267L371.46,492.96M145.5,262.5L371.46,488.46M145.5,258L371.46,483.96M145.5,253.5L371.46,479.46M145.5,249L371.46,474.96M145.5,244.5L371.46,470.46M145.5,240L371.46,465.96M145.5,235.5L371.46,461.46M145.5,231L371.46,456.96M145.5,226.5L371.46,452.46M145.5,222L371.46,447.96M145.5,217.5L371.46,443.46M145.5,213L371.46,438.96M145.5,208.5L371.46,434.46M145.5,204L371.46,429.96M145.5,199.5L371.46,425.46M145.5,195L371.46,420.96M145.5,190.5L371.46,416.46M145.5,186L371.46,411.96M145.5,181.5L371.46,407.46M145.5,177L371.46,402.96M145.5,172.5L371.46,398.46M145.5,168L371.46,393.96M145.5,163.5L371.46,389.46"/>
<path class="eo" d="M146.5,557.3V388.5h15V557.3M198.5,557.3V390.5h15V557.3M250.5,557.3V441.5h15V557.3M303.5,557.3V435.5h15V557.3M355.5,557.3V444.5h15V557.3"/>
<path class="eo" opacity="0.55" d="M146.5,557.3h15M198.5,557.3h15M250.5,557.3h15M303.5,557.3h15M355.5,557.3h15"/>
<text class="v" x="124" y="346.6">90</text>
<text class="v" x="176" y="364.6">82</text>
<text class="v" x="228" y="402.6">66</text>
<text class="v" x="281" y="406.6">64</text>
<text class="v" x="333" y="385.6">73</text>
<text class="v" x="139" y="463.6">39</text>
<text class="v" x="191" y="409.6">62</text>
<text class="v" x="243" y="464.6">39</text>
<text class="v" x="296" y="449.6">45</text>
<text class="v" x="348" y="474.6">34</text>
<text class="v" x="154" y="384.6">73</text>
<text class="v" x="206" y="386.6">72</text>
<text class="v" x="258" y="437.6">50</text>
<text class="v" x="311" y="431.6">53</text>
<text class="v" x="363" y="440.6">49</text>
<text class="pl" x="173.43" y="344">iTLB</text>
</g>
<g id="BTB">
<path class="gr" d="M421,557.3V315.5M473.35,557.3V315.5M525.7,557.3V315.5M578.05,557.3V315.5M630.4,557.3V315.5M386,510.5H665.5M386,464.5H665.5M386,418.5H665.5M386,372.5H665.5M386,326.5H665.5"/>
<rect class="sp" x="386" y="315.5" width="279.5" height="241.8"/>
<path class="sp" stroke-width="1.3" d="M385.5,557.3H666" style="stroke-width:1.15px"/>
<path class="tk" d="M421,557.3v3.2M473.35,557.3v3.2M525.7,557.3v3.2M578.05,557.3v3.2M630.4,557.3v3.2M386,557.3h-3.4M386,510.5h-3.4M386,464.5h-3.4M386,418.5h-3.4M386,372.5h-3.4M386,326.5h-3.4"/>
<path class="bg" d="M398.5,442.5h15v114.2h-15zM450.5,422.5h15v134.2h-15zM503.5,452.5h15v104.2h-15zM555.5,463.5h15v93.2h-15zM607.5,481.5h15v75.2h-15z"/>
<path class="hb" clip-path="url(#cBTB0)" d="M397.5,421.5L623.46,195.54M397.5,426L623.46,200.04M397.5,430.5L623.46,204.54M397.5,435L623.46,209.04M397.5,439.5L623.46,213.54M397.5,444L623.46,218.04M397.5,448.5L623.46,222.54M397.5,453L623.46,227.04M397.5,457.5L623.46,231.54M397.5,462L623.46,236.04M397.5,466.5L623.46,240.54M397.5,471L623.46,245.04M397.5,475.5L623.46,249.54M397.5,480L623.46,254.04M397.5,484.5L623.46,258.54M397.5,489L623.46,263.04M397.5,493.5L623.46,267.54M397.5,498L623.46,272.04M397.5,502.5L623.46,276.54M397.5,507L623.46,281.04M397.5,511.5L623.46,285.54M397.5,516L623.46,290.04M397.5,520.5L623.46,294.54M397.5,525L623.46,299.04M397.5,529.5L623.46,303.54M397.5,534L623.46,308.04M397.5,538.5L623.46,312.54M397.5,543L623.46,317.04M397.5,547.5L623.46,321.54M397.5,552L623.46,326.04M397.5,556.5L623.46,330.54M397.5,561L623.46,335.04M397.5,565.5L623.46,339.54M397.5,570L623.46,344.04M397.5,574.5L623.46,348.54M397.5,579L623.46,353.04M397.5,583.5L623.46,357.54M397.5,588L623.46,362.04M397.5,592.5L623.46,366.54M397.5,597L623.46,371.04M397.5,601.5L623.46,375.54M397.5,606L623.46,380.04M397.5,610.5L623.46,384.54M397.5,615L623.46,389.04M397.5,619.5L623.46,393.54M397.5,624L623.46,398.04M397.5,628.5L623.46,402.54M397.5,633L623.46,407.04M397.5,637.5L623.46,411.54M397.5,642L623.46,416.04M397.5,646.5L623.46,420.54M397.5,651L623.46,425.04M397.5,655.5L623.46,429.54M397.5,660L623.46,434.04M397.5,664.5L623.46,438.54M397.5,669L623.46,443.04M397.5,673.5L623.46,447.54M397.5,678L623.46,452.04M397.5,682.5L623.46,456.54M397.5,687L623.46,461.04M397.5,691.5L623.46,465.54M397.5,696L623.46,470.04M397.5,700.5L623.46,474.54M397.5,705L623.46,479.04M397.5,709.5L623.46,483.54M397.5,714L623.46,488.04M397.5,718.5L623.46,492.54M397.5,723L623.46,497.04M397.5,727.5L623.46,501.54M397.5,732L623.46,506.04M397.5,736.5L623.46,510.54M397.5,741L623.46,515.04M397.5,745.5L623.46,519.54M397.5,750L623.46,524.04M397.5,754.5L623.46,528.54M397.5,759L623.46,533.04M397.5,763.5L623.46,537.54M397.5,768L623.46,542.04M397.5,772.5L623.46,546.54M397.5,777L623.46,551.04M397.5,781.5L623.46,555.54"/>
<path class="eb" d="M398.5,557.3V442.5h15V557.3M450.5,557.3V422.5h15V557.3M503.5,557.3V452.5h15V557.3M555.5,557.3V463.5h15V557.3M607.5,557.3V481.5h15V557.3"/>
<path class="eb" opacity="0.55" d="M398.5,557.3h15M450.5,557.3h15M503.5,557.3h15M555.5,557.3h15M607.5,557.3h15"/>
<path class="bg" d="M413.5,524.5h15v32.2h-15zM465.5,452.5h15v104.2h-15zM518.5,493.5h15v63.2h-15zM570.5,489.5h15v67.2h-15zM622.5,511.5h15v45.2h-15z"/>
<path class="hg" clip-path="url(#cBTB1)" d="M411.75,450H638.46M411.75,454.5H638.46M411.75,459H638.46M411.75,463.5H638.46M411.75,468H638.46M411.75,472.5H638.46M411.75,477H638.46M411.75,481.5H638.46M411.75,486H638.46M411.75,490.5H638.46M411.75,495H638.46M411.75,499.5H638.46M411.75,504H638.46M411.75,508.5H638.46M411.75,513H638.46M411.75,517.5H638.46M411.75,522H638.46M411.75,526.5H638.46M411.75,531H638.46M411.75,535.5H638.46M411.75,540H638.46M411.75,544.5H638.46M411.75,549H638.46M411.75,553.5H638.46M411.75,558H638.46M412.88,452.25H638.46M412.88,456.75H638.46M412.88,461.25H638.46M412.88,465.75H638.46M412.88,470.25H638.46M412.88,474.75H638.46M412.88,479.25H638.46M412.88,483.75H638.46M412.88,488.25H638.46M412.88,492.75H638.46M412.88,497.25H638.46M412.88,501.75H638.46M412.88,506.25H638.46M412.88,510.75H638.46M412.88,515.25H638.46M412.88,519.75H638.46M412.88,524.25H638.46M412.88,528.75H638.46M412.88,533.25H638.46M412.88,537.75H638.46M412.88,542.25H638.46M412.88,546.75H638.46M412.88,551.25H638.46M412.88,555.75H638.46"/>
<path class="eg" d="M413.5,557.3V524.5h15V557.3M465.5,557.3V452.5h15V557.3M518.5,557.3V493.5h15V557.3M570.5,557.3V489.5h15V557.3M622.5,557.3V511.5h15V557.3"/>
<path class="eg" opacity="0.55" d="M413.5,557.3h15M465.5,557.3h15M518.5,557.3h15M570.5,557.3h15M622.5,557.3h15"/>
<path class="bg" d="M428.5,474.5h15v82.2h-15zM480.5,436.5h15v120.2h-15zM533.5,465.5h15v91.2h-15zM585.5,479.5h15v77.2h-15zM637.5,504.5h15v52.2h-15z"/>
<path class="ho" clip-path="url(#cBTB2)" d="M427.5,432L653.46,206.04M427.5,436.5L653.46,210.54M427.5,441L653.46,215.04M427.5,445.5L653.46,219.54M427.5,450L653.46,224.04M427.5,454.5L653.46,228.54M427.5,459L653.46,233.04M427.5,463.5L653.46,237.54M427.5,468L653.46,242.04M427.5,472.5L653.46,246.54M427.5,477L653.46,251.04M427.5,481.5L653.46,255.54M427.5,486L653.46,260.04M427.5,490.5L653.46,264.54M427.5,495L653.46,269.04M427.5,499.5L653.46,273.54M427.5,504L653.46,278.04M427.5,508.5L653.46,282.54M427.5,513L653.46,287.04M427.5,517.5L653.46,291.54M427.5,522L653.46,296.04M427.5,526.5L653.46,300.54M427.5,531L653.46,305.04M427.5,535.5L653.46,309.54M427.5,540L653.46,314.04M427.5,544.5L653.46,318.54M427.5,549L653.46,323.04M427.5,553.5L653.46,327.54M427.5,558L653.46,332.04M427.5,562.5L653.46,336.54M427.5,567L653.46,341.04M427.5,571.5L653.46,345.54M427.5,576L653.46,350.04M427.5,580.5L653.46,354.54M427.5,585L653.46,359.04M427.5,589.5L653.46,363.54M427.5,594L653.46,368.04M427.5,598.5L653.46,372.54M427.5,603L653.46,377.04M427.5,607.5L653.46,381.54M427.5,612L653.46,386.04M427.5,616.5L653.46,390.54M427.5,621L653.46,395.04M427.5,625.5L653.46,399.54M427.5,630L653.46,404.04M427.5,634.5L653.46,408.54M427.5,639L653.46,413.04M427.5,643.5L653.46,417.54M427.5,648L653.46,422.04M427.5,652.5L653.46,426.54M427.5,657L653.46,431.04M427.5,661.5L653.46,435.54M427.5,666L653.46,440.04M427.5,670.5L653.46,444.54M427.5,675L653.46,449.04M427.5,679.5L653.46,453.54M427.5,684L653.46,458.04M427.5,688.5L653.46,462.54M427.5,693L653.46,467.04M427.5,697.5L653.46,471.54M427.5,702L653.46,476.04M427.5,706.5L653.46,480.54M427.5,711L653.46,485.04M427.5,715.5L653.46,489.54M427.5,720L653.46,494.04M427.5,724.5L653.46,498.54M427.5,729L653.46,503.04M427.5,733.5L653.46,507.54M427.5,738L653.46,512.04M427.5,742.5L653.46,516.54M427.5,747L653.46,521.04M427.5,751.5L653.46,525.54M427.5,756L653.46,530.04M427.5,760.5L653.46,534.54M427.5,765L653.46,539.04M427.5,769.5L653.46,543.54M427.5,774L653.46,548.04M427.5,778.5L653.46,552.54M427.5,783L653.46,557.04M427.5,562.5L653.46,788.46M427.5,558L653.46,783.96M427.5,553.5L653.46,779.46M427.5,549L653.46,774.96M427.5,544.5L653.46,770.46M427.5,540L653.46,765.96M427.5,535.5L653.46,761.46M427.5,531L653.46,756.96M427.5,526.5L653.46,752.46M427.5,522L653.46,747.96M427.5,517.5L653.46,743.46M427.5,513L653.46,738.96M427.5,508.5L653.46,734.46M427.5,504L653.46,729.96M427.5,499.5L653.46,725.46M427.5,495L653.46,720.96M427.5,490.5L653.46,716.46M427.5,486L653.46,711.96M427.5,481.5L653.46,707.46M427.5,477L653.46,702.96M427.5,472.5L653.46,698.46M427.5,468L653.46,693.96M427.5,463.5L653.46,689.46M427.5,459L653.46,684.96M427.5,454.5L653.46,680.46M427.5,450L653.46,675.96M427.5,445.5L653.46,671.46M427.5,441L653.46,666.96M427.5,436.5L653.46,662.46M427.5,432L653.46,657.96M427.5,427.5L653.46,653.46M427.5,423L653.46,648.96M427.5,418.5L653.46,644.46M427.5,414L653.46,639.96M427.5,409.5L653.46,635.46M427.5,405L653.46,630.96M427.5,400.5L653.46,626.46M427.5,396L653.46,621.96M427.5,391.5L653.46,617.46M427.5,387L653.46,612.96M427.5,382.5L653.46,608.46M427.5,378L653.46,603.96M427.5,373.5L653.46,599.46M427.5,369L653.46,594.96M427.5,364.5L653.46,590.46M427.5,360L653.46,585.96M427.5,355.5L653.46,581.46M427.5,351L653.46,576.96M427.5,346.5L653.46,572.46M427.5,342L653.46,567.96M427.5,337.5L653.46,563.46M427.5,333L653.46,558.96M427.5,328.5L653.46,554.46M427.5,324L653.46,549.96M427.5,319.5L653.46,545.46M427.5,315L653.46,540.96M427.5,310.5L653.46,536.46M427.5,306L653.46,531.96M427.5,301.5L653.46,527.46M427.5,297L653.46,522.96M427.5,292.5L653.46,518.46M427.5,288L653.46,513.96M427.5,283.5L653.46,509.46M427.5,279L653.46,504.96M427.5,274.5L653.46,500.46M427.5,270L653.46,495.96M427.5,265.5L653.46,491.46M427.5,261L653.46,486.96M427.5,256.5L653.46,482.46M427.5,252L653.46,477.96M427.5,247.5L653.46,473.46M427.5,243L653.46,468.96M427.5,238.5L653.46,464.46M427.5,234L653.46,459.96M427.5,229.5L653.46,455.46M427.5,225L653.46,450.96M427.5,220.5L653.46,446.46M427.5,216L653.46,441.96M427.5,211.5L653.46,437.46"/>
<path class="eo" d="M428.5,557.3V474.5h15V557.3M480.5,557.3V436.5h15V557.3M533.5,557.3V465.5h15V557.3M585.5,557.3V479.5h15V557.3M637.5,557.3V504.5h15V557.3"/>
<path class="eo" opacity="0.55" d="M428.5,557.3h15M480.5,557.3h15M533.5,557.3h15M585.5,557.3h15M637.5,557.3h15"/>
<text class="v" x="406" y="438.6">50</text>
<text class="v" x="458" y="418.6">59</text>
<text class="v" x="511" y="448.6">45</text>
<text class="v" x="563" y="459.6">41</text>
<text class="v" x="615" y="477.6">33</text>
<text class="v" x="421" y="520.6">14</text>
<text class="v" x="473" y="448.6">45</text>
<text class="v" x="526" y="489.6">28</text>
<text class="v" x="578" y="485.6">29</text>
<text class="v" x="630" y="507.6">20</text>
<text class="v" x="436" y="470.6">36</text>
<text class="v" x="488" y="432.6">52</text>
<text class="v" x="541" y="461.6">40</text>
<text class="v" x="593" y="475.6">34</text>
<text class="v" x="645" y="500.6">23</text>
<text class="pl" x="455.88" y="344">BTB</text>
</g>
<text class="yt" x="97" y="310.4">0</text>
<text class="yt" x="97" y="263.8">20</text>
<text class="yt" x="97" y="217.8">40</text>
<text class="yt" x="97" y="171.8">60</text>
<text class="yt" x="97" y="125.8">80</text>
<text class="yt" x="97" y="79.8">100</text>
<text class="yl" transform="translate(58.9,182.05) rotate(-90)">MPKI reduction (%)</text>
<text class="yt" x="97" y="564.6">0</text>
<text class="yt" x="97" y="517.8">20</text>
<text class="yt" x="97" y="471.8">40</text>
<text class="yt" x="97" y="425.8">60</text>
<text class="yt" x="97" y="379.8">80</text>
<text class="yt" x="97" y="333.8">100</text>
<text class="yl" transform="translate(58.9,436.4) rotate(-90)">MPKI reduction (%)</text>
<text class="xt" transform="translate(141,583) rotate(-30)">gcc</text>
<text class="xt" transform="translate(192.05,588.5) rotate(-30)">clang</text>
<text class="xt" transform="translate(245.8,590) rotate(-30)">mysql</text>
<text class="xt" transform="translate(297.95,594.25) rotate(-30)">postgres</text>
<text class="xt" transform="translate(349.6,598) rotate(-30)">mongodb</text>
<text class="xt" transform="translate(423.4,583) rotate(-30)">gcc</text>
<text class="xt" transform="translate(474.45,588.5) rotate(-30)">clang</text>
<text class="xt" transform="translate(528.2,590) rotate(-30)">mysql</text>
<text class="xt" transform="translate(580.35,594.25) rotate(-30)">postgres</text>
<text class="xt" transform="translate(632,598) rotate(-30)">mongodb</text>
<rect x="158.5" y="19.4" width="463.0" height="34.9" rx="2.8" ry="2.8" fill="#fff" stroke="#cfcfcf" stroke-width="1"/>
<path class="hb" clip-path="url(#clb)" d="M164.8,24.2L207.8,-18.8M164.8,28.7L207.8,-14.3M164.8,33.2L207.8,-9.8M164.8,37.7L207.8,-5.3M164.8,42.2L207.8,-0.8M164.8,46.7L207.8,3.7M164.8,51.2L207.8,8.2M164.8,55.7L207.8,12.7M164.8,60.2L207.8,17.2M164.8,64.7L207.8,21.7M164.8,69.2L207.8,26.2M164.8,73.7L207.8,30.7M164.8,78.2L207.8,35.2M164.8,82.7L207.8,39.7"/>
<rect class="eb" x="165.8" y="27.5" width="39.7" height="14.0"/>
<text class="lg" x="221" y="41.5">Fresh</text>
<path class="hg" clip-path="url(#clg)" d="M306,27H349.3M306,31.5H349.3M306,36H349.3M306,40.5H349.3M307.12,24.75H349.3M307.12,29.25H349.3M307.12,33.75H349.3M307.12,38.25H349.3M307.12,42.75H349.3"/>
<rect class="eg" x="307.3" y="27.5" width="39.2" height="14.0"/>
<text class="lg" x="362" y="41.5" word-spacing="1.5">Ayupov et al.</text>
<path class="ho" clip-path="url(#clo)" d="M515.5,24.5L558.5,-18.5M515.5,29L558.5,-14M515.5,33.5L558.5,-9.5M515.5,38L558.5,-5M515.5,42.5L558.5,-0.5M515.5,47L558.5,4M515.5,51.5L558.5,8.5M515.5,56L558.5,13M515.5,60.5L558.5,17.5M515.5,65L558.5,22M515.5,69.5L558.5,26.5M515.5,74L558.5,31M515.5,78.5L558.5,35.5M515.5,83L558.5,40M515.5,43L558.5,86M515.5,38.5L558.5,81.5M515.5,34L558.5,77M515.5,29.5L558.5,72.5M515.5,25L558.5,68M515.5,20.5L558.5,63.5M515.5,16L558.5,59M515.5,11.5L558.5,54.5M515.5,7L558.5,50M515.5,2.5L558.5,45.5M515.5,-2L558.5,41M515.5,-6.5L558.5,36.5M515.5,-11L558.5,32M515.5,-15.5L558.5,27.5"/>
<rect class="eo" x="516.5" y="27.5" width="39.3" height="14.0"/>
<text class="lg" x="571.3" y="41.5">W<tspan font-size="15.5" letter-spacing="0.6">AX</tspan></text>
</svg></body></html>
